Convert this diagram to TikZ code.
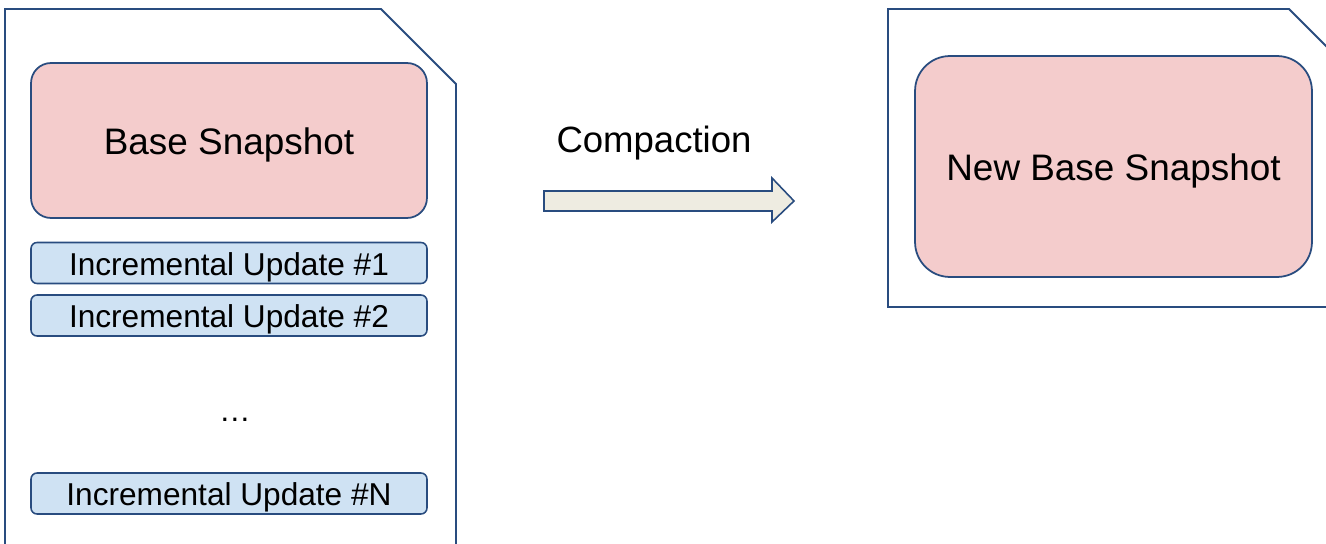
\documentclass[tikz,border=0pt]{standalone}
\usepackage{fontspec}
\setmainfont{Liberation Sans}
\usetikzlibrary{positioning}

\definecolor{docblue}{RGB}{41,76,127}
\definecolor{snappink}{HTML}{F4CCCC}
\definecolor{updblue}{HTML}{CFE2F3}
\definecolor{arrowfill}{HTML}{EEECE1}

\tikzset{
	docline/.style={draw=docblue, line width=1.1pt},
	snapbox/.style={draw=docblue, line width=1pt, fill=snappink, rounded corners=0.4cm,
		text height=20.6pt, text depth=4.4pt,
		font=\fontsize{21}{25}\selectfont},
	updbox/.style={draw=docblue, line width=0.9pt, fill=updblue, rounded corners=0.12cm,
		minimum width=7.92cm, minimum height=0.82cm, inner sep=0pt,
		text height=18pt, text depth=3.8pt,
		font=\fontsize{18}{21}\selectfont},
	bigtext/.style={font=\fontsize{20.8}{24}\selectfont}
}

\begin{document}
\begin{tikzpicture}[x=0.02cm,y=-0.02cm]
	\useasboundingbox (0,0) rectangle (1326,544);
	\clip (0,0) rectangle (1326,544);

	% left file: base snapshot plus its updates
	\draw[docline] (5,560)--(5,9)--(381,9)--(456,84)--(456,560);
	\node[snapbox, minimum width=7.92cm, minimum height=3.1cm] (base) at (229,140.5) {Base Snapshot};
	\node[updbox] (upd1) at (229,263) {Incremental Update \#1};
	\node[updbox] (upd2) at (229,315.5) {Incremental Update \#2};
	\node[font=\fontsize{18}{21}\selectfont] (dots) at (235,420) {…};
	\node[updbox] (updN) at (229,493.5) {Incremental Update \#N};

	% compaction arrow
	\node[bigtext] (compact) at (654,143) {Compaction};
	\filldraw[draw=docblue, line width=0.9pt, fill=arrowfill]
		(544,191)--(772,191)--(772,178)--(794,201)--(772,222)--(772,211)--(544,211)--cycle;

	% right file: the new base snapshot
	\draw[docline] (1340,60)--(1289,9)--(888,9)--(888,307)--(1340,307);
	\node[snapbox, rounded corners=0.7cm, minimum width=7.94cm, minimum height=4.42cm] (newbase) at (1113.5,166.5) {New Base Snapshot};
\end{tikzpicture}
\end{document}
